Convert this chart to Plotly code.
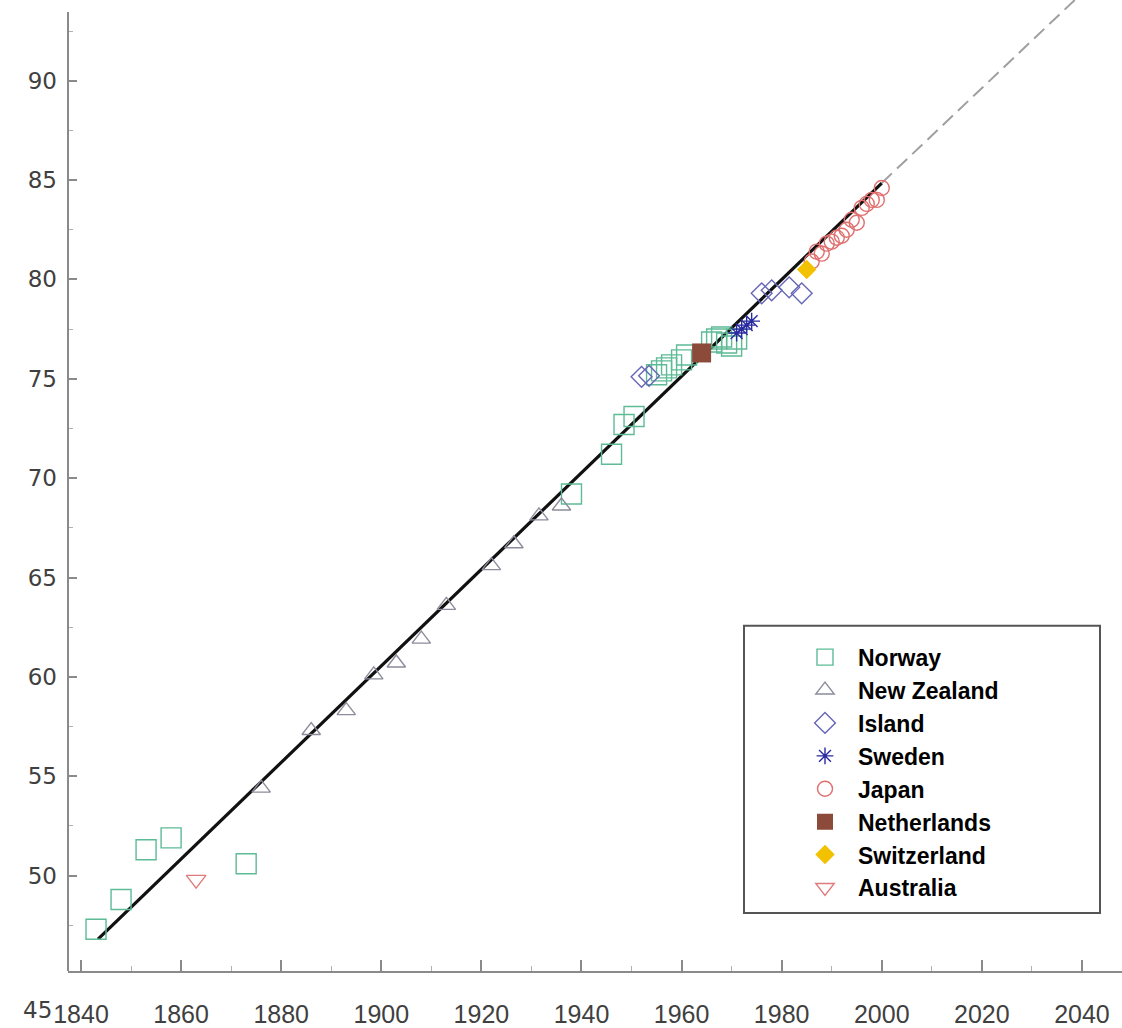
import plotly.graph_objects as go

# ---- data ----
norway_years = [1843, 1848, 1853, 1858, 1873, 1938, 1946, 1948.5, 1950.5,
                1955, 1956, 1957, 1958, 1960, 1961,
                1966, 1967, 1968, 1969, 1970, 1971]
norway_values = [47.3, 48.8, 51.3, 51.9, 50.6, 69.2, 71.2, 72.7, 73.1,
                 75.2, 75.4, 75.55, 75.7, 75.95, 76.2,
                 76.85, 77.0, 77.1, 76.8, 76.65, 77.0]

nz_years = [1876, 1886, 1893, 1898.5, 1903, 1908, 1913, 1922, 1926.5, 1931.5, 1936]
nz_values = [54.4, 57.3, 58.3, 60.1, 60.7, 61.9, 63.6, 65.6, 66.7, 68.1, 68.6]

island_years = [1952, 1953.5, 1976, 1978, 1981.5, 1984]
island_values = [75.1, 75.15, 79.3, 79.45, 79.6, 79.3]

sweden_years = [1971, 1972, 1973, 1974]
sweden_values = [77.3, 77.5, 77.7, 77.9]

japan_years = [1986, 1987, 1988, 1989, 1990, 1991, 1992, 1993, 1994, 1995,
               1996, 1997, 1998, 1999, 2000]
japan_values = [80.9, 81.4, 81.3, 81.8, 81.9, 82.1, 82.2, 82.5, 83.0, 82.85,
                83.6, 83.8, 84.0, 84.0, 84.6]

netherlands_years = [1964]
netherlands_values = [76.3]

switzerland_years = [1985]
switzerland_values = [80.5]

australia_years = [1863]
australia_values = [49.8]

fit_years = [1843.4, 2000]
fit_values = [46.8, 84.85]
proj_years = [2000, 2045]
proj_values = [84.85, 95.6]

x_ticks = [1840, 1860, 1880, 1900, 1920, 1940, 1960, 1980, 2000, 2020, 2040]
y_ticks = [50, 55, 60, 65, 70, 75, 80, 85, 90]

fig = go.Figure()

fig.add_trace(go.Scatter(x=fit_years, y=fit_values, mode="lines",
                         line=dict(color="#111111", width=3.2), showlegend=False,
                         hoverinfo="skip"))
fig.add_trace(go.Scatter(x=proj_years, y=proj_values, mode="lines",
                         line=dict(color="#a0a0a0", width=2, dash="14px,7px"),
                         showlegend=False, hoverinfo="skip"))

series = [
    ("Norway", norway_years, norway_values, "square-open", "#5dbb95", 20),
    ("New Zealand", nz_years, nz_values, "triangle-up-open", "#8c8c9c", 16),
    ("Island", island_years, island_values, "diamond-open", "#6666b8", 16),
    ("Sweden", sweden_years, sweden_values, "asterisk-open", "#2a2aa0", 14),
    ("Japan", japan_years, japan_values, "circle-open", "#e07070", 15),
    ("Netherlands", netherlands_years, netherlands_values, "square", "#8b4a3a", 19),
    ("Switzerland", switzerland_years, switzerland_values, "diamond", "#f2c200", 15),
    ("Australia", australia_years, australia_values, "triangle-down-open", "#e07a7a", 17),
]

for name, xs, ys, sym, col, sz in series:
    filled = not (sym.endswith("open"))
    fig.add_trace(go.Scatter(
        x=xs, y=ys, mode="markers", name=name, legendgroup=name,
        marker=dict(symbol=sym, size=sz, color=col,
                    line=dict(color=col, width=1.4 if not filled else 0)),
    ))

W, H = 1122, 1028
ML, MR, MT, MB = 68, 0, 0, 55
pw, ph = W - ML - MR, H - MT - MB
Y0, Y1 = 45.2, 94.06


def px(xp):
    return (xp - ML) / pw


def py(yp):
    return (H - MB - yp) / ph


fig.update_layout(
    width=W, height=H, autosize=False,
    margin=dict(l=ML, r=MR, t=MT, b=MB, pad=0),
    paper_bgcolor="white", plot_bgcolor="white",
    showlegend=True,
    legend=dict(
        x=px(792), y=py(637), xanchor="left", yanchor="top",
        bgcolor="rgba(0,0,0,0)", borderwidth=0,
        font=dict(family="Liberation Sans, Arial, sans-serif", size=23,
                  color="#000000", weight="bold"),
        tracegroupgap=0, itemwidth=56,
    ),
    xaxis=dict(
        range=[1837.4, 2048.0], tickvals=x_ticks, showgrid=False, zeroline=False,
        showline=True, linecolor="#8a8a8a", linewidth=2,
        ticks="inside", ticklen=11, tickwidth=1.5, tickcolor="#8a8a8a",
        minor=dict(ticks="inside", ticklen=5, dtick=10, tickcolor="#b0b0b0", tickwidth=1.2),
        tickfont=dict(family="Liberation Sans, Arial, sans-serif", size=25, color="#404040"),
        ticklabelstandoff=20,
    ),
    yaxis=dict(
        range=[Y0, Y1], tickvals=y_ticks, showgrid=False, zeroline=False,
        showline=False,
        ticks="inside", ticklen=9, tickwidth=1.5, tickcolor="#8a8a8a",
        minor=dict(ticks="inside", ticklen=5, dtick=2.5, tickcolor="#b0b0b0", tickwidth=1.2),
        tickfont=dict(family="DejaVu Sans, Verdana, sans-serif", size=23, color="#404040"),
        ticklabelstandoff=10,
    ),
    shapes=[
        dict(type="rect", xref="paper", yref="paper",
             x0=px(744), x1=px(1100), y0=py(915), y1=py(627),
             line=dict(color="#555555", width=2), fillcolor="rgba(0,0,0,0)"),
        dict(type="line", xref="paper", yref="paper", x0=0, x1=0,
             y0=0, y1=py(12), line=dict(color="#8a8a8a", width=2)),
    ],
    annotations=[dict(text="45", xref="paper", yref="paper", x=px(37), y=py(1012),
                      xanchor="center", yanchor="middle", showarrow=False,
                      font=dict(family="DejaVu Sans, Verdana, sans-serif", size=23,
                                color="#404040"))],
)

fig.write_html("out.html")
